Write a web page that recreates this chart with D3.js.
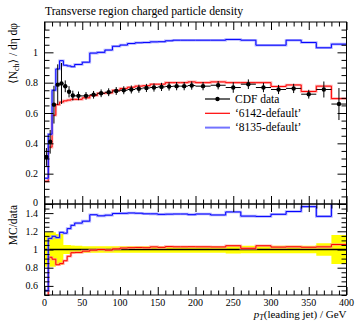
<!DOCTYPE html>
<html>
<head>
<meta charset="utf-8">
<script src="https://cdnjs.cloudflare.com/ajax/libs/d3/7.8.5/d3.min.js"></script>
<style>
  body { margin: 0; background: #fff; }
  text { font-family: "Liberation Serif", "DejaVu Serif", serif; fill: #000; }
</style>
</head>
<body>
<svg id="chart" width="356" height="322"></svg>
<script>
// bin edges in pT(leading jet) / GeV
var edges = [0, 5, 10, 15, 20, 25, 30, 35, 40, 50, 60, 70, 80, 90, 100, 110, 120, 130, 140, 150,
             160, 170, 180, 190, 200, 220, 240, 260, 280, 300, 320, 340, 360, 380, 400];
// CDF data
var dataVals = [0.31, 0.41, 0.655, 0.787, 0.795, 0.776, 0.74, 0.715, 0.713, 0.713, 0.72, 0.73,
                0.737, 0.745, 0.75, 0.755, 0.76, 0.765, 0.768, 0.772, 0.775, 0.777, 0.777, 0.781,
                0.777, 0.783, 0.768, 0.79, 0.768, 0.755, 0.762, 0.724, 0.755, 0.659];
// relative data uncertainty (yellow band)
var dataRelErr = [0.19, 0.19, 0.19, 0.17, 0.17, 0.05, 0.05, 0.045, 0.04, 0.035, 0.035, 0.035,
                  0.035, 0.035, 0.035, 0.035, 0.035, 0.035, 0.035, 0.035, 0.035, 0.035, 0.035, 0.035,
                  0.035, 0.035, 0.045, 0.04, 0.04, 0.04, 0.04, 0.04, 0.07, 0.16];
// '6142-default'
var mcRed = [0.15, 0.375, 0.585, 0.655, 0.672, 0.68, 0.685, 0.69, 0.69, 0.70, 0.715, 0.73,
             0.732, 0.75, 0.762, 0.77, 0.777, 0.78, 0.79, 0.79, 0.80, 0.80, 0.80, 0.805,
             0.80, 0.805, 0.80, 0.80, 0.80, 0.775, 0.785, 0.742, 0.777, 0.695];
// '8135-default'
var mcBlue = [0.17, 0.46, 0.75, 0.89, 0.945, 0.915, 0.91, 0.905, 0.92, 0.935, 0.995, 1.0,
              1.015, 1.04, 1.048, 1.058, 1.063, 1.065, 1.069, 1.07, 1.076, 1.08, 1.08, 1.08,
              1.08, 1.08, 1.085, 1.08, 1.047, 1.047, 1.08, 1.065, 1.03, 1.054];

var xTicks = [0, 50, 100, 150, 200, 250, 300, 350, 400];
var mainYTicks = [0, 0.2, 0.4, 0.6, 0.8, 1];
var ratioYTicks = [0.6, 0.8, 1, 1.2, 1.4];

var svg = d3.select("#chart");
var x = d3.scaleLinear().domain([0, 400]).range([44.5, 346.5]);
var yMain = d3.scaleLinear().domain([0, 1.2]).range([204, 22]);
var yRatio = d3.scaleLinear().domain([0.5, 1.5]).range([295, 204]);

var bins = d3.range(dataVals.length).map(function(i) {
    return {lo: edges[i], hi: edges[i + 1], c: (edges[i] + edges[i + 1]) / 2,
            v: dataVals[i], e: dataVals[i] * dataRelErr[i], r: dataRelErr[i],
            red: mcRed[i], blue: mcBlue[i]};
});

function steps(acc) {
    var pts = [];
    bins.forEach(function(b) { pts.push([b.lo, acc(b)]); pts.push([b.hi, acc(b)]); });
    return pts;
}

var defs = svg.append("defs");
defs.append("clipPath").attr("id", "clipMain").append("rect")
    .attr("x", x(0)).attr("y", yMain(1.2)).attr("width", x(400) - x(0)).attr("height", yMain(0) - yMain(1.2));
defs.append("clipPath").attr("id", "clipRatio").append("rect")
    .attr("x", x(0)).attr("y", yRatio(1.5)).attr("width", x(400) - x(0)).attr("height", yRatio(0.5) - yRatio(1.5));

// ---------- main panel ----------
var gMain = svg.append("g").attr("clip-path", "url(#clipMain)");
var lineMain = d3.line().x(function(d) { return x(d[0]); }).y(function(d) { return yMain(d[1]); });

[["#ff0000", "#ff9090", "red"], ["#0000ff", "#9090ff", "blue"]].forEach(function(s) {
    var pts = steps(function(b) { return b[s[2]]; });
    gMain.append("path").attr("d", lineMain(pts)).attr("fill", "none")
        .attr("stroke", s[1]).attr("stroke-width", 2.6).attr("stroke-opacity", 0.7);
    gMain.append("path").attr("d", lineMain(pts)).attr("fill", "none")
        .attr("stroke", s[0]).attr("stroke-width", 1);
});

var pts = gMain.selectAll("g.pt").data(bins).enter().append("g").attr("class", "pt");
pts.append("line")
    .attr("x1", function(d) { return x(d.c); }).attr("x2", function(d) { return x(d.c); })
    .attr("y1", function(d) { return yMain(d.v - d.e); }).attr("y2", function(d) { return yMain(d.v + d.e); })
    .attr("stroke", "#000").attr("stroke-width", 1);
pts.append("line")
    .attr("x1", function(d) { return x(d.lo); }).attr("x2", function(d) { return x(d.hi); })
    .attr("y1", function(d) { return yMain(d.v); }).attr("y2", function(d) { return yMain(d.v); })
    .attr("stroke", "#000").attr("stroke-width", 1);
pts.append("circle")
    .attr("cx", function(d) { return x(d.c); }).attr("cy", function(d) { return yMain(d.v); })
    .attr("r", 2.2).attr("fill", "#000");

// ---------- ratio panel ----------
var gRatio = svg.append("g").attr("clip-path", "url(#clipRatio)");
var band = d3.area().x(function(d) { return x(d[0]); })
    .y0(function(d) { return yRatio(1 - d[1]); }).y1(function(d) { return yRatio(1 + d[1]); });
gRatio.append("path").attr("d", band(steps(function(b) { return b.r; }))).attr("fill", "#ffff00");
gRatio.append("line").attr("x1", x(0)).attr("x2", x(400)).attr("y1", yRatio(1)).attr("y2", yRatio(1))
    .attr("stroke", "#000").attr("stroke-width", 1.3);
var lineRatio = d3.line().x(function(d) { return x(d[0]); }).y(function(d) { return yRatio(d[1]); });
[["#ff0000", "#ff9090", "red"], ["#0000ff", "#9090ff", "blue"]].forEach(function(s) {
    var p = steps(function(b) { return b[s[2]] / b.v; });
    gRatio.append("path").attr("d", lineRatio(p)).attr("fill", "none")
        .attr("stroke", s[1]).attr("stroke-width", 2.6).attr("stroke-opacity", 0.7);
    gRatio.append("path").attr("d", lineRatio(p)).attr("fill", "none")
        .attr("stroke", s[0]).attr("stroke-width", 1);
});

// ---------- axes ----------
var xMinor = d3.range(0, 401, 10).filter(function(v) { return v % 50 !== 0; });
function xAxes(top, bottom) {
    [[d3.axisTop, top], [d3.axisBottom, bottom]].forEach(function(a) {
        svg.append("g").attr("transform", "translate(0," + a[1] + ")")
            .call(a[0](x).tickValues(xTicks).tickSize(-8).tickFormat(""));
        svg.append("g").attr("transform", "translate(0," + a[1] + ")")
            .call(a[0](x).tickValues(xMinor).tickSize(-4.5).tickFormat(""));
    });
}
function minorsOf(lo, hi) {
    return d3.range(lo, hi + 0.0001, 0.05).filter(function(v) { return Math.abs(v * 5 - Math.round(v * 5)) > 1e-6; });
}
function yAxes(y, majors, minors, shift) {
    [[d3.axisLeft, x(0)], [d3.axisRight, x(400)]].forEach(function(a) {
        svg.append("g").attr("transform", "translate(" + a[1] + ",0)")
            .call(a[0](y).tickValues(majors).tickSize(-9).tickFormat(""));
        svg.append("g").attr("transform", "translate(" + a[1] + ",0)")
            .call(a[0](y).tickValues(minors).tickSize(-5).tickFormat(""));
    });
    svg.append("g").selectAll("text").data(majors).enter().append("text")
        .attr("x", 38).attr("y", function(d) { return y(d) + shift(d); })
        .attr("text-anchor", "end").attr("font-size", 10)
        .text(function(d) { return d3.format("~g")(d); });
}
xAxes(yMain(1.2), yMain(0));
xAxes(yRatio(1.5), yRatio(0.5));
yAxes(yMain, mainYTicks, minorsOf(0, 1.2), function(d) { return d === 0 ? 1.5 : 3.5; });
yAxes(yRatio, ratioYTicks, minorsOf(0.5, 1.5), function(d) { return 3.5; });
svg.selectAll(".domain").remove();
svg.selectAll(".tick line").attr("stroke", "#000");

// frames
svg.append("rect").attr("x", x(0)).attr("y", yMain(1.2)).attr("width", x(400) - x(0))
    .attr("height", yMain(0) - yMain(1.2)).attr("fill", "none").attr("stroke", "#000");
svg.append("rect").attr("x", x(0)).attr("y", yRatio(1.5)).attr("width", x(400) - x(0))
    .attr("height", yRatio(0.5) - yRatio(1.5)).attr("fill", "none").attr("stroke", "#000");

// x tick labels
svg.append("g").selectAll("text").data(xTicks).enter().append("text")
    .attr("x", function(d) { return x(d); }).attr("y", 305.5)
    .attr("text-anchor", "middle").attr("font-size", 10).text(function(d) { return d; });

// titles
svg.append("text").attr("x", 45).attr("y", 15).attr("font-size", 11.7)
    .text("Transverse region charged particle density");
var xl = svg.append("text").attr("x", x(400)).attr("y", 318).attr("text-anchor", "end").attr("font-size", 11);
xl.append("tspan").attr("font-style", "italic").text("p");
xl.append("tspan").attr("font-style", "italic").attr("font-size", 8).attr("dy", 1.5).text("T");
xl.append("tspan").attr("dy", -1.5).text("(leading jet) / GeV");

var yl = svg.append("text").attr("transform", "translate(17,23) rotate(-90)")
    .attr("text-anchor", "end").attr("font-size", 11.5);
yl.append("tspan").text("\u27e8N");
yl.append("tspan").attr("font-size", 8).attr("dy", 2).text("ch");
yl.append("tspan").attr("dy", -2).text("\u27e9 / d\u03b7 d\u03c6");
svg.append("text").attr("transform", "translate(17,205) rotate(-90)")
    .attr("text-anchor", "end").attr("font-size", 11.5).text("MC/data");

// legend
var legend = [["CDF data", "#000"], ["\u20186142-default\u2019", "#ff0000"], ["\u20188135-default\u2019", "#0000ff"]];
var lg = svg.append("g").selectAll("g").data(legend).enter().append("g")
    .attr("transform", function(d, i) { return "translate(205," + (102.5 + i * 14.3) + ")"; });
lg.append("line").attr("x1", 0).attr("x2", 25).attr("y1", -3.5).attr("y2", -3.5)
    .attr("stroke", function(d) { return d[1]; })
    .attr("stroke-width", function(d, i) { return i === 2 ? 2 : 1.2; })
    .attr("stroke-opacity", function(d, i) { return i === 2 ? 0.55 : 1; });
lg.filter(function(d, i) { return i === 0; }).append("circle").attr("cx", 12.5).attr("cy", -3.5).attr("r", 2.2).attr("fill", "#000");
lg.append("text").attr("x", 30).attr("y", 0).attr("font-size", 11.5).text(function(d) { return d[0]; });
</script>
</body>
</html>
